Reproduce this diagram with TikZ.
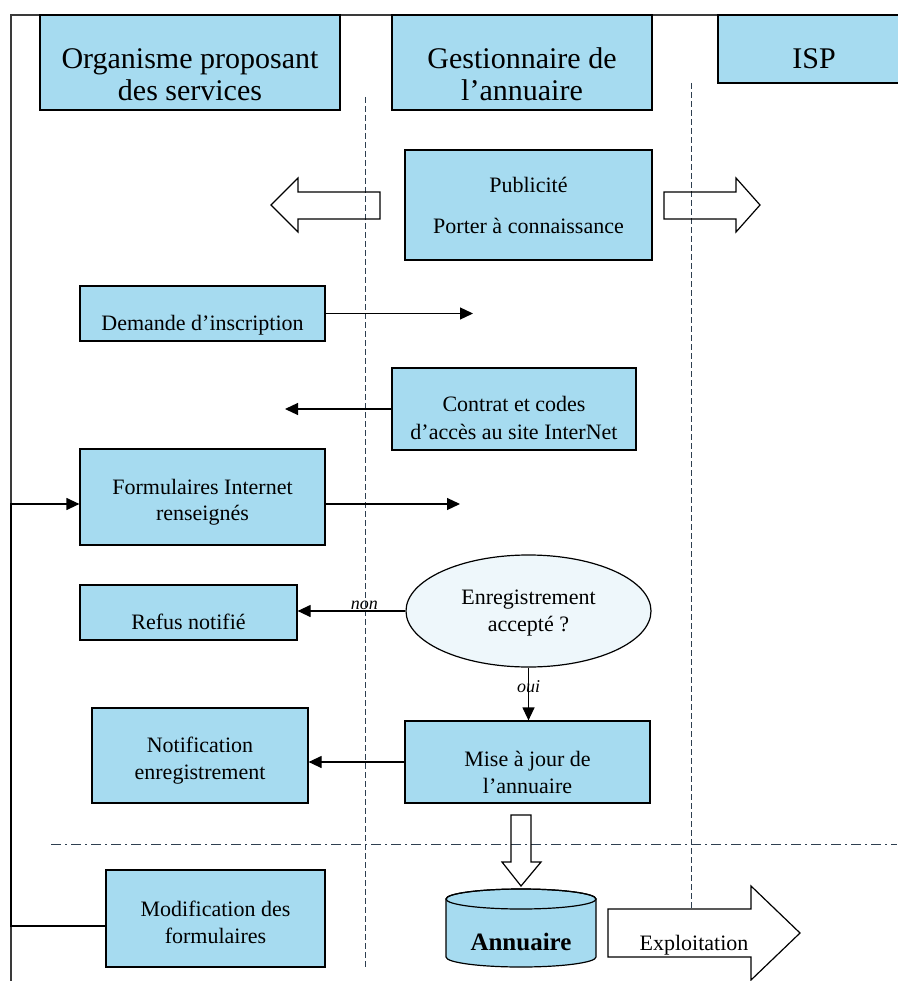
\documentclass[tikz,border=0pt]{standalone}
\usepackage{fontspec}
\setmainfont{Liberation Serif}
\usetikzlibrary{arrows.meta,calc,shapes.geometric}
\definecolor{boxblue}{HTML}{A6DBF0}
\definecolor{ellfill}{HTML}{EEF7FB}
\definecolor{framec}{HTML}{3A3A3A}
\definecolor{dashc}{HTML}{2E3F50}
\newcommand\tx[2]{\begingroup\setbox0\hbox{\begin{tabular}{@{}c@{}}#2\end{tabular}}\raisebox{\dimexpr(\dp0-\ht0)/2-#1pt\relax}[0pt][0pt]{\copy0}\endgroup}
\begin{document}
\begin{tikzpicture}[x=1pt,y=-1pt,
  box/.style={draw=black, line width=1.2pt, fill=boxblue, inner sep=0pt, font=\fontsize{22}{26.5}\selectfont},
  titlebox/.style={box, font=\fontsize{30}{32}\selectfont},
  conn/.style={line width=1.2pt, -{Triangle[length=13pt,width=12pt]}},
  lane/.style={dashc, line width=0.8pt, dash pattern=on 6pt off 3pt},
  sepline/.style={dashc, line width=0.8pt, dash pattern=on 10pt off 4pt on 2pt off 4pt},
  hollow/.style={draw=black, line width=1.2pt, line join=miter},
  cylbody/.style={draw=black, line width=1.2pt, fill=boxblue},
  lbl/.style={font=\itshape\fontsize{18}{20}\selectfont, inner sep=0.5pt}]
\useasboundingbox (0,0) rectangle (897,981);
% frame, lanes, separator
\draw[framec, line width=1.3pt] (11,981) -- (11,15) -- (897,15);
\draw[lane] (365,97) -- (365,967);
\draw[lane] (691,83) -- (691,909);
\draw[sepline] (51,844) -- (897,844);
% header boxes
\node[titlebox, minimum width=300pt, minimum height=95pt] (org) at (190,62.5) {\tx{16}{Organisme proposant\\des services}};
\node[titlebox, minimum width=260pt, minimum height=95pt] (gest) at (522,62.5) {\tx{16}{Gestionnaire de\\l'annuaire}};
\node[titlebox, minimum width=192pt, minimum height=68pt] (isp) at (814,49) {\tx{13}{ISP}};
% process boxes
\node[box, minimum width=247pt, minimum height=110pt] (pub) at (528.5,205) {\tx{2.5}{Publicité\\[15pt]Porter à connaissance}};
\node[box, minimum width=245pt, minimum height=55pt] (dem) at (202.5,313.5) {\tx{12}{Demande d'inscription}};
\node[box, minimum width=244pt, minimum height=82pt] (con) at (514,409) {\tx{11}{Contrat et codes\\[2pt]d'accès au site InterNet}};
\node[box, minimum width=245pt, minimum height=96pt] (form) at (202.5,497) {\tx{5}{Formulaires Internet\\renseignés}};
\node[box, minimum width=217pt, minimum height=55pt] (refus) at (188.5,612.5) {\tx{12}{Refus notifié}};
\node[draw=black, line width=1.2pt, fill=ellfill, ellipse, minimum width=245pt, minimum height=112pt, inner sep=0pt, font=\fontsize{22}{26.5}\selectfont] (ell) at (528.5,611) {\tx{1.5}{Enregistrement\\accepté ?}};
\node[box, minimum width=216pt, minimum height=95pt] (notif) at (200,755.5) {\tx{5}{Notification\\enregistrement}};
\node[box, minimum width=245pt, minimum height=82pt] (mise) at (527.5,762) {\tx{12.5}{Mise à jour de\\l'annuaire}};
\node[box, minimum width=219pt, minimum height=97pt] (modif) at (215.5,918.5) {\tx{6}{Modification des\\formulaires}};
% cylinder
\draw[cylbody] (446,899) -- (446,957) arc[start angle=180,end angle=360,x radius=75pt,y radius=10pt] -- (596,899) arc[start angle=0,end angle=180,x radius=75pt,y radius=10pt] -- cycle;
\draw[line width=1.2pt] (521,899) ellipse[x radius=75pt, y radius=10pt];
\node[minimum width=150pt, minimum height=78pt, inner sep=0pt, font=\bfseries\fontsize{25}{28}\selectfont] (cyl) at (521,928) {\tx{17}{Annuaire}};
% block arrows
\draw[hollow] (271,205) -- (298,178) -- (298,192) -- (380,192) -- (380,219) -- (298,219) -- (298,232) -- cycle;
\draw[hollow] (664,192) -- (736,192) -- (736,178) -- (760,205) -- (736,232) -- (736,219) -- (664,219) -- cycle;
\draw[hollow] (511,815) -- (531,815) -- (531,862) -- (541,862) -- (521,886) -- (502,862) -- (511,862) -- cycle;
\draw[hollow, fill=white] (608,909) -- (751,909) -- (751,886) -- (800,933) -- (751,980) -- (751,957) -- (608,957) -- cycle;
\node[font=\fontsize{22}{26}\selectfont, inner sep=0pt] (expl) at (694,945) {Exploitation};
% connectors
\coordinate (demend) at (473,313.5);
\coordinate (conend) at (285,409);
\coordinate (formend) at (460,504);
\coordinate (fbcorner) at (11,926);
\draw[conn] (dem.east) -- (demend);
\draw[conn] (con.west) -- (conend);
\draw[conn] ([yshift=-7pt]form.east) -- (formend);
\draw[conn] ([yshift=-7.5pt]modif.west) -- (fbcorner) |- ([yshift=-7pt]form.west);
\draw[conn] (ell.west) -- (ell.west -| refus.east) node[lbl, pos=0.38, anchor=south] {non};
\draw[conn] (ell.south) -- (ell.south |- mise.north) node[lbl, pos=0.37] {oui};
\draw[conn] (mise.west) -- (mise.west -| notif.east);
\end{tikzpicture}
\end{document}
